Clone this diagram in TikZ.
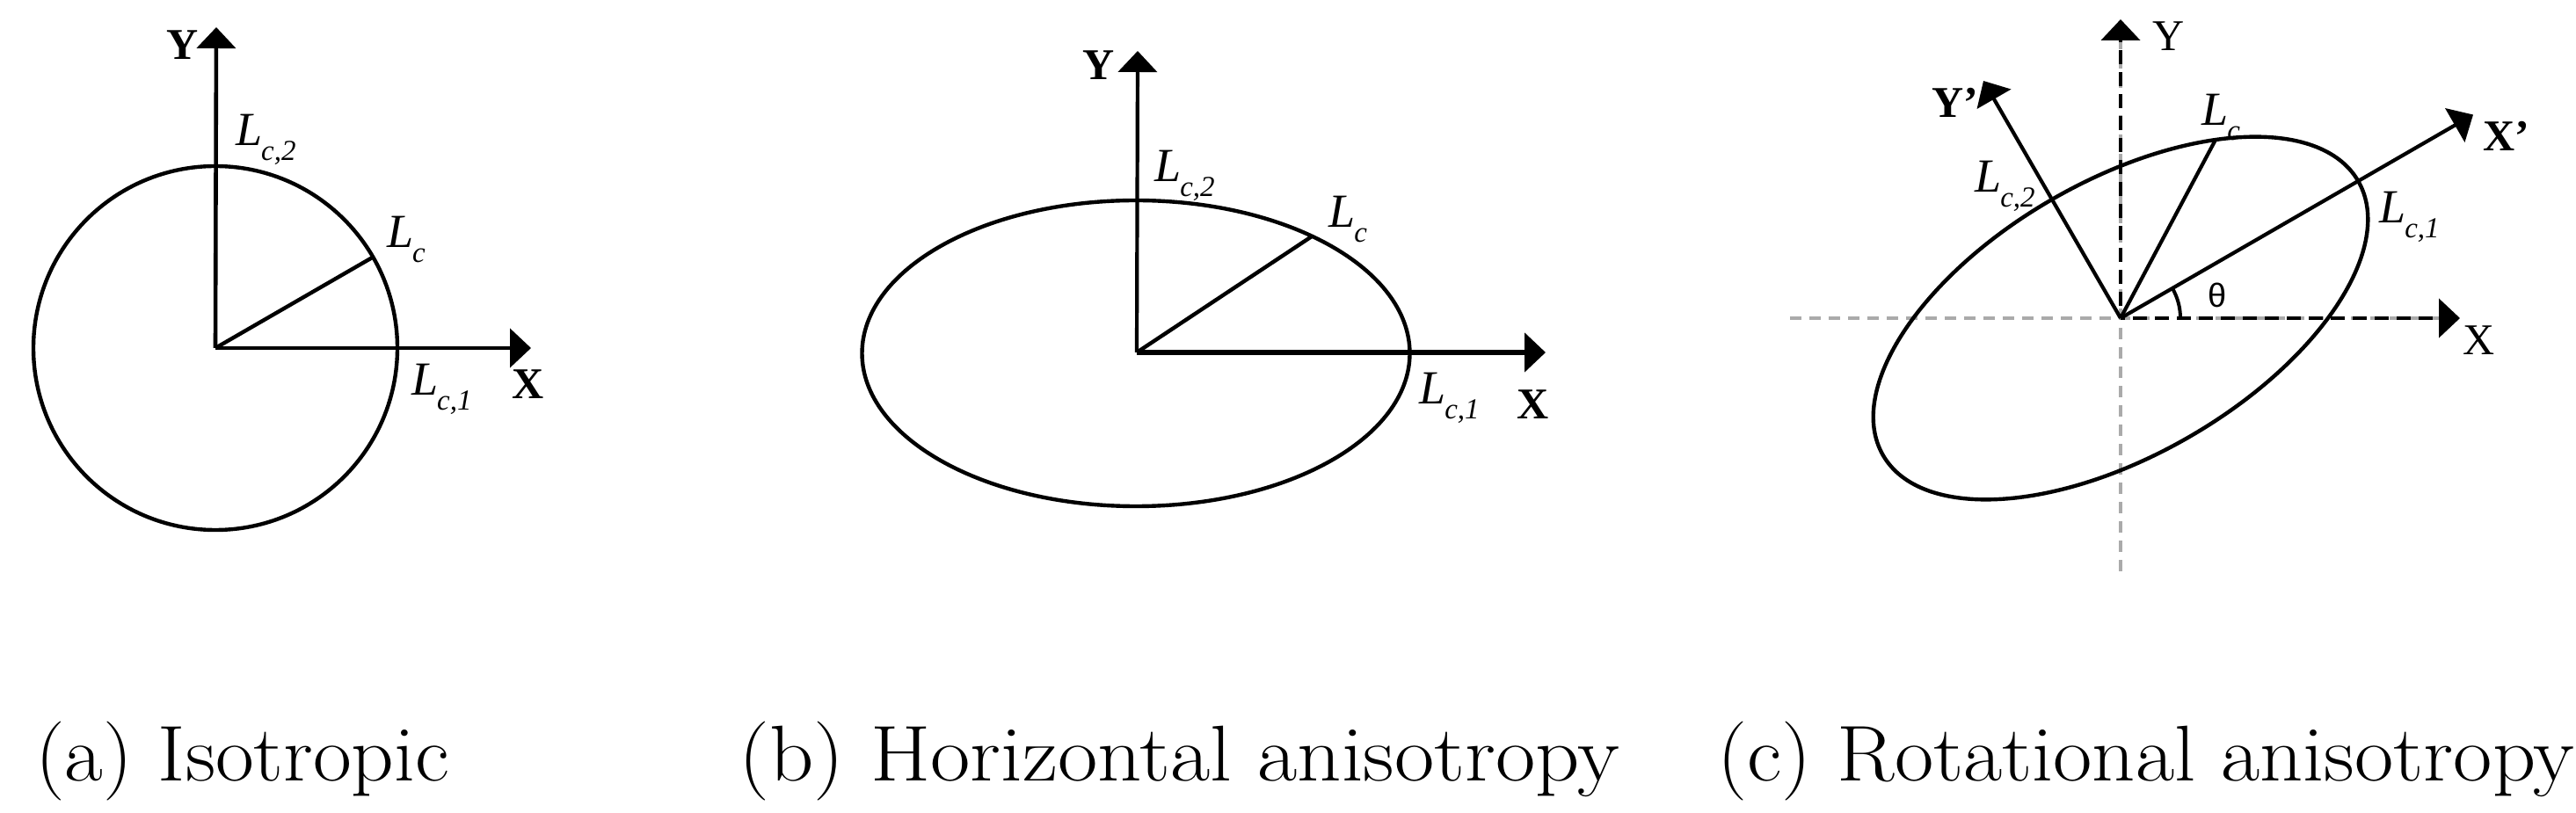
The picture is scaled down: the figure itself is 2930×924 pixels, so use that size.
\documentclass[tikz,border=0pt]{standalone}
\usepackage{fontspec}
\usetikzlibrary{arrows.meta}
\newfontfamily\tms{Liberation Serif}
\newfontfamily\ars{Liberation Sans}
\newcommand{\Lbl}[1]{{\tms\itshape L}\kern-1pt\raisebox{-17pt}{\tms\itshape\fontsize{33}{33}\selectfont #1}}
\begin{document}
\begin{tikzpicture}[x=1pt,y=1pt,
  axis/.style={line width=4.6pt,-{Triangle[length=24pt,width=44pt]}},
  curve/.style={line width=4.4pt},
  radline/.style={line width=4.4pt},
  blackdash/.style={line width=4.4pt,dash pattern=on 16pt off 9pt,-{Triangle[length=24pt,width=44pt]}},
  graydash/.style={line width=3.4pt,draw={rgb,255:red,170;green,170;blue,170},dash pattern=on 13pt off 9pt},
  lab/.style={inner sep=0pt,font=\tms\fontsize{54}{54}\selectfont,anchor=base west},
  axlab/.style={inner sep=0pt,font=\tms\bfseries\fontsize{50}{50}\selectfont,anchor=base},
  axlabr/.style={inner sep=0pt,font=\tms\fontsize{50}{50}\selectfont,anchor=base},
  captext/.style={inner sep=0pt,font=\fontsize{90}{94}\selectfont\addfontfeature{FakeBold=0.6},anchor=base west}]
\useasboundingbox (0,0) rectangle (2930,924);
\fill[white] (0,0) rectangle (2930,924);

% ---------- (a) Isotropic ----------
\coordinate (Oa) at (245,528);
\coordinate (Ya) at (246,893);
\coordinate (Xa) at (604,528);
\coordinate (Pa) at (424.3,631.5);
\draw[curve] (Oa) circle[radius=207];
\draw[axis] (Oa) -- (Ya);
\draw[axis] (Oa) -- (Xa);
\draw[radline] (Oa) -- (Pa);
\node[axlab] (ya) at (208,856) {Y};
\node[axlab] (xa) at (601,470) {X};
\node[lab] (lc2a) at (268,758) {\Lbl{c,2}};
\node[lab] (lca) at (440,642) {\Lbl{c}};
\node[lab] (lc1a) at (468,474) {\Lbl{c,1}};

% ---------- (b) Horizontal anisotropy ----------
\coordinate (Ob) at (1293,523);
\coordinate (Yb) at (1294,866);
\coordinate (Xb) at (1758,523);
\coordinate (Pb) at (1492,655);
\draw[curve] (1292,522) ellipse[x radius=311.5,y radius=174];
\draw[axis,line width=4.2pt] (Ob) -- (Yb);
\draw[axis,line width=5.4pt] (Ob) -- (Xb);
\draw[radline] (Ob) -- (Pb);
\node[axlab] (yb) at (1250,833) {Y};
\node[axlab] (xb) at (1744,447) {X};
\node[lab] (lc2b) at (1313,717) {\Lbl{c,2}};
\node[lab] (lcb) at (1511,665) {\Lbl{c}};
\node[lab] (lc1b) at (1614,464) {\Lbl{c,1}};

% ---------- (c) Rotational anisotropy ----------
\coordinate (Oc) at (2412,562);
\coordinate (Yc) at (2412,902);
\coordinate (Xc) at (2798,562);
\coordinate (Gl) at (2036,562);
\coordinate (Gr) at (2775,562);
\coordinate (Gb) at (2412,274);
\coordinate (Gt) at (2412,880);
\coordinate (Xpc) at (2813,793.5);
\coordinate (Ypc) at (2256,832);
\coordinate (Pc) at (2520,765);
\coordinate (Ac) at (2480,562);
\draw[graydash] (Gl) -- (Gr);
\draw[graydash] (Gb) -- (Gt);
\draw[blackdash,dash phase=11pt] (Oc) -- (Xc);
\draw[blackdash,dash phase=11pt] (Oc) -- (Yc);
\draw[curve,rotate around={30:(Oc)}] (Oc) ellipse[x radius=312,y radius=156];
\draw[axis,line width=4.2pt] (Oc) -- (Xpc);
\draw[axis,line width=4.2pt] (Oc) -- (Ypc);
\draw[radline,line width=4.2pt] (Oc) -- (Pc);
\draw[line width=4pt] (Ac) arc[start angle=0,end angle=30,radius=68];
\node[inner sep=0pt,font=\ars\fontsize{38}{38}\selectfont] (th) at (2522,588) {θ};
\node[axlabr] (yc) at (2467,866) {Y};
\node[axlabr] (xc) at (2820,520) {X};
\node[axlab] (ypc) at (2224,790) {Y’};
\node[axlab] (xpc) at (2851,752) {X’};
\node[lab] (lcc) at (2504,781) {\Lbl{c}};
\node[lab] (lc2c) at (2246,705) {\Lbl{c,2}};
\node[lab] (lc1c) at (2706,670) {\Lbl{c,1}};

% ---------- captions ----------
\node[captext] (capa) at (40,36) {\scalebox{1.057}[1]{(a) Isotropic}};
\node[captext] (capb) at (840,36) {\scalebox{1.095}[1]{(b) Horizontal anisotropy}};
\node[captext] (capc) at (1953,36) {\scalebox{1.07}[1]{(c) Rotational anisotropy}};
\end{tikzpicture}
\end{document}
